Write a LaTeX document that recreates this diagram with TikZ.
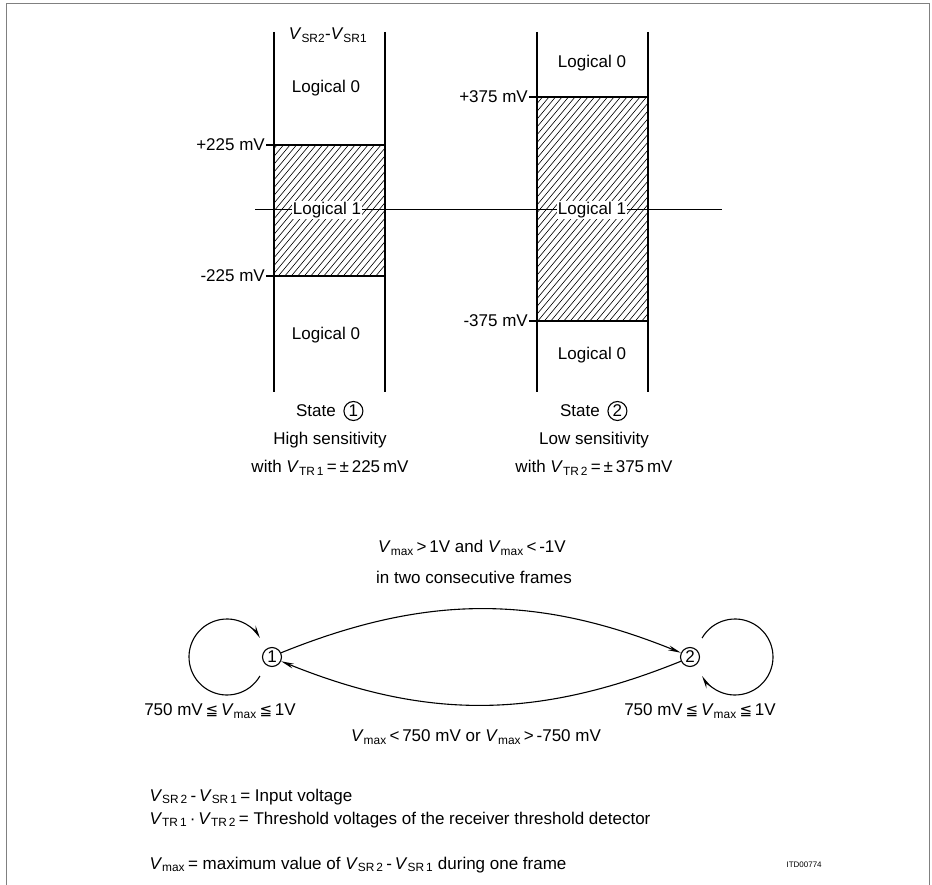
\documentclass[tikz,border=0pt]{standalone}
\usepackage{fontspec}
\setmainfont{Liberation Sans}
\newfontfamily\symfont{DejaVu Sans}
\usetikzlibrary{arrows.meta, positioning}

\newcommand{\Vs}[1]{\textit{V}\textsubscript{#1}}
\newcommand{\leqq}{{\symfont\fontsize{15}{16}\selectfont ≦}}

\begin{document}
\begin{tikzpicture}[x=1pt, y=-1pt,
  bar/.style={line width=1.6pt},
  hatch/.style={line width=0.6pt},
  frm/.style={line width=0.8pt, gray},
  st/.style={circle, draw, line width=1.1pt, minimum size=19pt, inner sep=0pt},
  lbl/.style={inner sep=1pt},
  arr/.style={line width=1.1pt, -{Stealth[length=13pt, width=5pt]}},
  font=\fontsize{17}{20}\selectfont]

\useasboundingbox (0,0) rectangle (932,885);

% outer frame
\draw[frm] (6,885) -- (6,3) -- (929,3) -- (929,885);

% hatched bands
\begin{scope}
  \clip (274,145) rectangle (385,276);
  \foreach \k in {0,...,45} { \draw[hatch] ({80+6.5*\k},280) -- ++(200,-240); }
\end{scope}
\begin{scope}
  \clip (537,97) rectangle (648,321);
  \foreach \k in {0,...,60} { \draw[hatch] ({320+6.5*\k},325) -- ++(300,-360); }
\end{scope}

% input voltage line
\draw[line width=1pt] (255,210) -- (722,210);

% columns
\draw[bar] (274,32) -- (274,392);
\draw[bar] (385,32) -- (385,392);
\draw[bar] (537,32) -- (537,392);
\draw[bar] (648,32) -- (648,392);

% threshold levels
\draw[bar] (266,145) -- (385,145);
\draw[bar] (266,276) -- (385,276);
\draw[bar] (529,97) -- (648,97);
\draw[bar] (529,321) -- (648,321);

% column texts
\node (vin) at (328,35) {\Vs{SR2}-\Vs{SR1}};
\node (z1a) at (326,88) {Logical 0};
\node (z1b) at (326,335) {Logical 0};
\node (z2a) at (592,63) {Logical 0};
\node (z2b) at (592,355) {Logical 0};
\node[lbl, fill=white] (o1) at (327,210) {Logical 1};
\node[lbl, fill=white] (o2) at (592,210) {Logical 1};

% threshold values
\node[anchor=east, lbl] (p225) at (266,145) {+225 mV};
\node[anchor=east, lbl] (m225) at (266,276) {-225 mV};
\node[anchor=east, lbl] (p375) at (529,97) {+375 mV};
\node[anchor=east, lbl] (m375) at (529,321) {-375 mV};

% state captions
\node (t1) at (316,411) {State};
\node[st, right=4pt of t1] (c1) {1};
\node (h1) at (330,440) {High sensitivity};
\node (w1) at (330,468) {with \Vs{TR\,1}\,=\,±\,225\,mV};
\node (t2) at (580,411) {State};
\node[st, right=4pt of t2] (c2) {2};
\node (h2) at (594,440) {Low sensitivity};
\node (w2) at (594,468) {with \Vs{TR\,2}\,=\,±\,375\,mV};

% state diagram
\node[st] (s1) at (272,657) {1};
\node[st] (s2) at (690,657) {2};
\coordinate (k1) at ([xshift=-45pt]s1.center);
\coordinate (k2) at ([xshift=45pt]s2.center);

\draw[arr] (s1.25) to[bend left=22] (s2.155);
\draw[arr] (s2.205) to[bend left=22] (s1.335);
\draw[arr] (k1) ++(30:38) arc[start angle=30, end angle=330, radius=38];
\draw[arr] (k2) ++(210:38) arc[start angle=210, end angle=510, radius=38];

\node (up1) at (472,548) {\Vs{max}\,>\,1V and \Vs{max}\,<\,-1V};
\node (up2) at (474,577) {in two consecutive frames};
\node (lp1) at (220,711) {750 mV\,\leqq\,\Vs{max}\,\leqq\,1V};
\node (lp2) at (700,711) {750 mV\,\leqq\,\Vs{max}\,\leqq\,1V};
\node (dn) at (476,737) {\Vs{max}\,<\,750 mV or \Vs{max}\,>\,-750 mV};

% legend
\node[anchor=west] (lg1) at (146,797) {\Vs{SR\,2}\,-\,\Vs{SR\,1}\,= Input voltage};
\node[anchor=west] (lg2) at (146,820) {\Vs{TR\,1}\,·\,\Vs{TR\,2}\,= Threshold voltages of the receiver threshold detector};
\node[anchor=west] (lg3) at (146,865) {\Vs{max}\,= maximum value of \Vs{SR\,2}\,-\,\Vs{SR\,1} during one frame};
\node[anchor=west, font=\fontsize{8}{9}\selectfont] (tag) at (783,865) {ITD00774};

\end{tikzpicture}
\end{document}
